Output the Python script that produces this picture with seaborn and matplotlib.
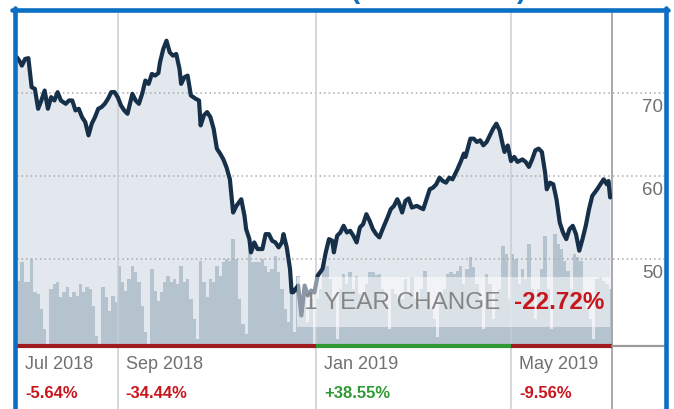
import numpy as np
import pandas as pd
import matplotlib
matplotlib.use("Agg")
import matplotlib.pyplot as plt
from matplotlib.patches import Rectangle
from matplotlib.lines import Line2D
import seaborn as sns

# ---- data -------------------------------------------------------------
START = pd.Timestamp("2018-07-01")

# calendar-day offsets from START and closing prices
price_day = [0, 2, 3, 5, 7, 8, 9, 11, 13, 15, 17, 19, 21, 23, 25, 27, 30, 32, 34, 36,
             38, 40, 42, 44, 46, 48, 50, 52, 54, 56, 58, 60, 62, 64, 66, 68, 71, 73, 75, 77,
             79, 81, 83, 85, 87, 88, 90, 92, 94, 96, 98, 100, 101, 103, 105, 107, 110, 112, 113, 115,
             117, 119, 121, 123, 125, 127, 129, 131, 132, 133, 135, 138, 140, 141, 143, 144, 146, 148, 151, 153,
             155, 157, 159, 161, 163, 164, 166, 168, 169, 170, 173, 175, 177, 179, 181, 183, 185, 188, 190, 192,
             194, 195, 197, 199, 201, 203, 205, 207, 209, 211, 213, 215, 217, 219, 221, 223, 225, 228, 230, 232,
             234, 235, 237, 239, 241, 243, 246, 248, 250, 252, 254, 256, 258, 260, 262, 264, 266, 268, 271, 273,
             275, 276, 279, 281, 283, 285, 287, 289, 291, 293, 295, 297, 299, 300, 302, 304, 306, 308, 311, 313,
             315, 317, 319, 321, 323, 325, 326, 328, 330, 332, 334, 336, 338, 340, 342, 344, 346, 348, 350, 352,
             354, 357, 359, 361, 363, 364, 365]
price_close = [74.30, 73.7, 73.3, 74.1, 74.2, 72.5, 70.7, 70.5, 68.1, 69.1, 70.3, 68.1, 69.5, 69.1, 70.1, 69.1, 68.7, 69.1, 69.1, 67.9,
               68.1, 67.1, 66.5, 64.9, 66.3, 67.1, 68.1, 68.3, 68.7, 69.3, 70.1, 70.11, 69.5, 68.5, 67.9, 67.5, 69.9, 69.1, 68.7, 69.9,
               71.5, 71.1, 72.3, 72.1, 72.4, 73.7, 75.3, 76.3, 74.9, 74.5, 74.7, 72.9, 71.1, 71.9, 72.1, 69.7, 69.3, 69.1, 66.1, 67.3,
               67.7, 67.1, 65.7, 63.3, 62.7, 62.0, 61.0, 59.6, 57.6, 55.6, 56.4, 57.2, 55.2, 53.6, 52.4, 50.8, 52.0, 51.2, 51.2, 53.0,
               53.0, 52.2, 52.0, 51.4, 52.0, 53.0, 51.4, 48.8, 46.0, 46.0, 46.8, 43.2, 46.8, 45.6, 46.2, 45.96, 48.0, 48.8, 50.8, 52.4,
               52.2, 50.8, 52.8, 53.2, 54.0, 53.2, 53.4, 52.8, 52.0, 53.8, 54.2, 55.4, 54.6, 53.6, 53.0, 52.6, 53.6, 55.0, 56.0, 56.4,
               57.2, 56.8, 55.6, 57.0, 57.3, 56.2, 56.4, 56.2, 56.0, 57.2, 58.4, 58.6, 59.0, 59.8, 59.4, 59.2, 59.8, 59.6, 60.8, 61.7,
               62.7, 62.3, 64.5, 64.5, 64.1, 64.3, 63.7, 64.1, 64.9, 65.7, 66.3, 65.5, 63.7, 62.9, 63.68, 61.8, 62.3, 61.7, 62.0, 61.7,
               61.1, 62.0, 63.1, 63.3, 62.9, 60.4, 58.4, 59.2, 59.0, 57.2, 54.4, 53.2, 52.4, 53.6, 54.0, 53.0, 51.0, 52.4, 54.0, 56.0,
               57.6, 58.4, 59.0, 59.6, 59.0, 59.4, 57.42]

# trading volume (millions of shares), one value per two calendar days from START
volume_m = [6.5, 8.4, 6.4, 6.4, 8.7, 5.4, 5.2, 3.7, 1.7, 0.2, 5.7, 6.2, 6.4, 4.9, 5.4, 5.9, 4.9, 5.4, 5.0, 6.2,
            5.4, 5.9, 5.7, 4.0, 1.0, 0.2, 5.9, 4.9, 3.5, 5.0, 4.4, 8.0, 6.4, 5.5, 6.7, 8.0, 7.4, 6.4, 4.0, 1.4,
            0.2, 7.7, 5.5, 4.5, 5.4, 6.4, 7.0, 6.4, 6.7, 6.2, 8.0, 6.4, 6.7, 4.7, 2.7, 0.7, 8.5, 6.4, 4.9, 6.7,
            6.4, 8.0, 7.0, 8.4, 8.7, 8.5, 10.7, 8.7, 4.7, 2.2, 1.2, 10.0, 8.4, 8.4, 8.4, 8.7, 8.0, 7.4, 7.7, 9.0,
            7.4, 5.7, 3.7, 2.4, 5.4, 1.4, 7.0, 4.0, 5.4, 2.4, 4.7, 0.2, 4.7, 5.7, 8.4, 8.0, 6.7, 4.7, 0.7, 5.7,
            7.2, 6.2, 7.4, 5.7, 7.0, 5.2, 4.7, 6.2, 7.4, 7.4, 7.1, 7.2, 5.7, 4.2, 1.7, 5.7, 5.2, 4.7, 4.7, 6.7,
            5.2, 6.9, 4.7, 4.2, 5.7, 7.5, 4.7, 3.7, 2.7, 0.9, 5.2, 5.7, 7.2, 7.4, 7.2, 7.5, 8.0, 6.2, 7.7, 8.9,
            7.9, 6.2, 4.7, 1.7, 7.2, 6.2, 2.7, 5.2, 5.7, 10.0, 9.2, 4.7, 9.2, 8.7, 6.2, 7.7, 6.7, 10.2, 5.7, 2.7,
            5.7, 7.7, 11.0, 5.7, 1.7, 11.2, 10.2, 9.7, 8.5, 7.5, 5.7, 9.2, 8.9, 8.5, 4.7, 3.7, 2.7, 0.7, 6.7, 6.9,
            6.5, 6.2, 5.7]

period_start = ["2018-07-01", "2018-09-01", "2019-01-01", "2019-05-01"]
period_labels = ["Jul 2018", "Sep 2018", "Jan 2019", "May 2019"]
period_changes = ["-5.64%", "-34.44%", "+38.55%", "-9.56%"]
price_ticks = [50, 60, 70]

# ---- style ------------------------------------------------------------
sns.set_theme(style="white")
plt.rcParams["font.family"] = ["Liberation Sans", "DejaVu Sans"]

RED = "#c8161d"
DARK_RED = "#9e1b1f"
GREEN = "#2f9a33"
GRAY_TXT = "#707070"
LINE = "#17304a"
FILL = "#e3e8ef"
VOL = "#b5c3cf"
BLUE = "#0b6fc4"

W, H = 674, 410
L, R, T, B = 17, 612, 12, 347
fig = plt.figure(figsize=(W / 100, H / 100), dpi=100)
fig.patch.set_facecolor("white")

rect = [L / W, (H - B) / H, (R - L) / W, (B - T) / H]
ax = fig.add_axes(rect)              # price area fill
axv = ax.twinx()                     # volume bars
axl = ax.twinx()                     # price line and annotations

x0 = START
x1 = START + pd.Timedelta(days=366.15)
ylo, yhi = 39.52, 79.88

df = pd.DataFrame({
    "date": START + pd.to_timedelta(price_day, unit="D"),
    "close": price_close,
})
vol = pd.DataFrame({
    "date": START + pd.to_timedelta(np.arange(len(volume_m)) * 2 + 1, unit="D"),
    "volume": volume_m,
})

ax.fill_between(df["date"], df["close"], ylo, color=FILL, lw=0)
axv.bar(vol["date"], vol["volume"], width=2.06, color=VOL, linewidth=0, align="center")
sns.lineplot(data=df, x="date", y="close", ax=axl, color=LINE, linewidth=3.0,
             solid_joinstyle="round", solid_capstyle="round", zorder=4)

for a in (ax, axv, axl):
    a.set_xlim(x0, x1)
    a.set_xticks([])
    a.set_yticks([])
    a.set_xlabel("")
    a.set_ylabel("")
    for s in a.spines.values():
        s.set_visible(False)
ax.set_ylim(ylo, yhi)
axl.set_ylim(ylo, yhi)
axv.set_ylim(0, 33.5)
axv.patch.set_visible(False)
axl.patch.set_visible(False)

ext = (664 - L) / (R - L)
below = -(H - B) / (B - T)

# dotted price gridlines, running out under the right-hand labels
for v in price_ticks:
    axl.axhline(v, xmin=0, xmax=ext, color="#a9a9a9", lw=1.1, ls=(0, (1, 2)),
                clip_on=False, zorder=2)
    axl.annotate(str(v), xy=(ext, v), xycoords=("axes fraction", "data"),
                 xytext=(-1, -13), textcoords="offset pixels", ha="right", va="center",
                 fontsize=13.5, color=GRAY_TXT)

# period separators
for d in period_start[1:]:
    axl.axvline(pd.Timestamp(d), ymin=below, ymax=1, color="#c9cdd2", lw=1.1,
                clip_on=False, zorder=2)
axl.axvline(x1, ymin=below, ymax=1, color="#a3a3a3", lw=1.3, clip_on=False, zorder=2)

# coloured baseline: red for falling periods, green for rising
edges = [pd.Timestamp(d) for d in period_start] + [x1]
seg_colors = [DARK_RED if c.startswith("-") else GREEN for c in period_changes]
for i in range(len(period_start)):
    axl.plot([edges[i], edges[i + 1]], [ylo, ylo], color=seg_colors[i], lw=3.0,
             solid_capstyle="butt", clip_on=False, zorder=6)
axl.plot([1.0, ext], [0, 0], transform=axl.transAxes, color="#9b9b9b", lw=1.6,
         clip_on=False, zorder=6)

# period labels and their percentage change
for d, lab, chg in zip(period_start, period_labels, period_changes):
    col = GREEN if chg.startswith("+") else RED
    axl.annotate(lab, xy=(pd.Timestamp(d), 0), xycoords=("data", "axes fraction"),
                 xytext=(8, -18), textcoords="offset pixels", ha="left", va="center",
                 fontsize=13, color=GRAY_TXT, annotation_clip=False)
    axl.annotate(chg, xy=(pd.Timestamp(d), 0), xycoords=("data", "axes fraction"),
                 xytext=(8, -47), textcoords="offset pixels", ha="left", va="center",
                 fontsize=12, fontweight="bold", color=col, annotation_clip=False)

# one-year change banner
axl.add_patch(Rectangle(((297 - L) / (R - L), (B - 328) / (B - T)), (610 - 297) / (R - L),
                        50 / (B - T), transform=axl.transAxes, facecolor="white",
                        alpha=0.5, edgecolor="none", zorder=7))
year_change = (price_close[-1] / price_close[0] - 1) * 100
axl.text((304 - L) / (R - L), (B - 303) / (B - T), "1 YEAR CHANGE", transform=axl.transAxes,
         ha="left", va="center", fontsize=17.5, color="#858585", zorder=8)
axl.text((604 - L) / (R - L), (B - 303) / (B - T), f"{year_change:+.2f}%", transform=axl.transAxes,
         ha="right", va="center", fontsize=17.5, fontweight="bold", color=RED, zorder=8)

# blue frame around the widget
lw_frame = 3.3
fig.add_artist(Line2D([14.5 / W, 14.5 / W], [0, 1 - 9 / H], color=BLUE, lw=lw_frame,
                      transform=fig.transFigure))
fig.add_artist(Line2D([665.5 / W, 665.5 / W], [0, 1 - 9 / H], color=BLUE, lw=lw_frame,
                      transform=fig.transFigure))
fig.add_artist(Line2D([12.2 / W, 667.8 / W], [1 - 11 / H, 1 - 11 / H], color=BLUE, lw=lw_frame,
                      transform=fig.transFigure))

# heading sits just above the frame
fig.text(355 / W, 1.004, "(", ha="center", va="baseline", fontsize=20, fontweight="bold", color=BLUE)
fig.text(522 / W, 1.004, ")", ha="center", va="baseline", fontsize=20, fontweight="bold", color=BLUE)

fig.savefig("out.png", dpi=100)
